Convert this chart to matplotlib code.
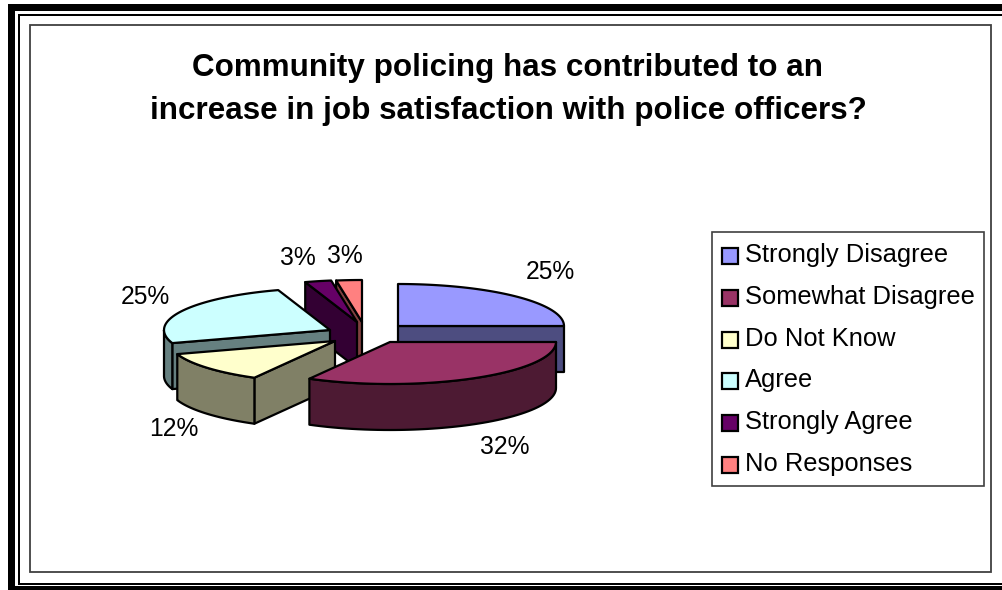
import numpy as np
import matplotlib
matplotlib.use('Agg')
import matplotlib.pyplot as plt
from matplotlib.patches import Polygon, Rectangle

plt.rcParams['font.family'] = ['Liberation Sans', 'DejaVu Sans']

title = 'Community policing has contributed to an\nincrease in job satisfaction with police officers?'
categories = ['Strongly Disagree', 'Somewhat Disagree', 'Do Not Know',
              'Agree', 'Strongly Agree', 'No Responses']
shares = [25, 32, 12, 25, 3, 3]

top_colors = ['#9999FF', '#993366', '#FFFFCC', '#CCFFFF', '#660066', '#FF8080']
side_colors = ['#4D4D80', '#4D1A33', '#808066', '#668080', '#330033', '#804040']

# where each exploded slice has its tip, in pixels
tips = [(398, 326), (390, 342), (335, 341), (330, 330), (357, 322), (362, 322)]
label_pos = [(550, 272), (505, 447), (174, 429), (145, 297), (298, 258), (345, 256)]
draw_order = [5, 4, 0, 3, 2, 1]

rx, ry, depth = 166, 42, 46
line_w = 1.6


def warp(a):
    # the perspective stretches the diagonals a little
    return a + 5 * np.abs(np.sin(np.radians(2 * a)))


def rim(cx, cy, a):
    r = np.radians(warp(a))
    return cx + rx * np.sin(r), cy - ry * np.cos(r)


def slice_poly(ax, pts, color):
    ax.add_patch(Polygon(pts, closed=True, facecolor=color, edgecolor='black',
                         linewidth=line_w, joinstyle='round'))


fig = plt.figure(figsize=(10.02, 5.90), dpi=100)
ax = fig.add_axes([0, 0, 1, 1])
ax.set_xlim(0, 1002)
ax.set_ylim(590, 0)
ax.axis('off')

# page frame: thick bar, thin line, then the chart border
ax.add_patch(Rectangle((8, 4), 994, 7, color='black', lw=0))
ax.add_patch(Rectangle((8, 4), 7, 586, color='black', lw=0))
ax.add_patch(Rectangle((8, 586), 994, 4, color='black', lw=0))
ax.add_patch(Rectangle((18, 14), 984, 2, color='black', lw=0))
ax.add_patch(Rectangle((18, 14), 2, 571, color='black', lw=0))
ax.add_patch(Rectangle((18, 583), 984, 2, color='black', lw=0))
ax.add_patch(Rectangle((30, 25), 961.5, 547, facecolor='none', edgecolor='#404040', lw=1.3))

ax.text(508, 89.5, title, ha='center', va='center', fontsize=22.6, fontweight='bold',
        linespacing=1.58)

# slice angles run clockwise from twelve o'clock
ends = np.cumsum(shares) * 3.6
starts = ends - np.array(shares) * 3.6

for i in draw_order:
    cx, cy = tips[i]
    a0, a1 = starts[i], ends[i]
    angles = np.linspace(a0, a1, 60)
    arc = [rim(cx, cy, a) for a in angles]

    # cut faces show only on the side turned towards the viewer
    if a1 <= 180:
        x, y = arc[-1]
        slice_poly(ax, [(cx, cy), (x, y), (x, y + depth), (cx, cy + depth)], side_colors[i])
    if a0 >= 180:
        x, y = arc[0]
        slice_poly(ax, [(cx, cy), (x, y), (x, y + depth), (cx, cy + depth)], side_colors[i])

    # outer wall, only the part facing the viewer
    lo, hi = max(a0, 90), min(a1, 270)
    if hi > lo:
        front = [rim(cx, cy, a) for a in np.linspace(lo, hi, 60)]
        wall = front + [(x, y + depth) for x, y in reversed(front)]
        slice_poly(ax, wall, side_colors[i])

    slice_poly(ax, [(cx, cy)] + arc, top_colors[i])

for share, (x, y) in zip(shares, label_pos):
    ax.text(x, y, '%d%%' % share, ha='center', va='center', fontsize=17.7)

# legend box
ax.add_patch(Rectangle((712, 232), 272, 254, facecolor='white', edgecolor='#404040', lw=1.2))
for i, name in enumerate(categories):
    yc = 256 + i * 41.8
    ax.add_patch(Rectangle((722, yc - 8), 16, 16, facecolor=top_colors[i],
                           edgecolor='black', lw=1.6))
    ax.text(745, yc + 6, name, ha='left', va='baseline', fontsize=18.4)

fig.savefig('out.png', dpi=100)
